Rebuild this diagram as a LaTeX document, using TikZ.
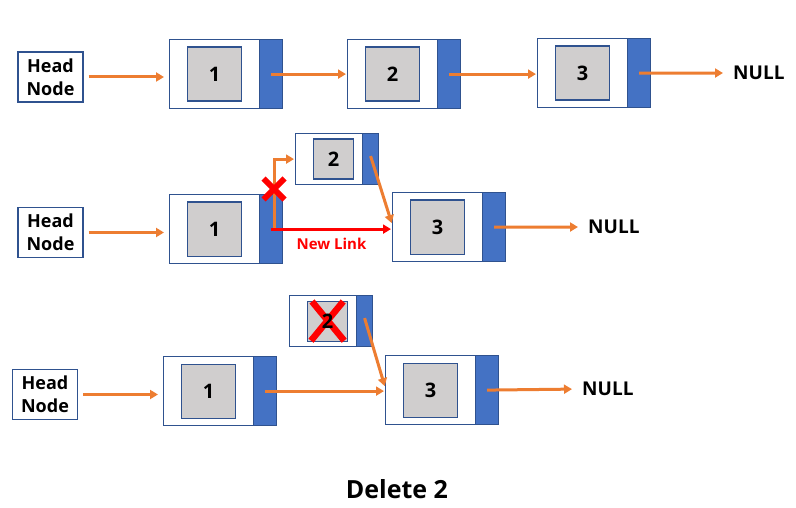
\documentclass[tikz,border=0pt]{standalone}
\usepackage{fontspec}
\setmainfont{Open Sans}
\usetikzlibrary{arrows.meta,shapes.misc}
\definecolor{cellborder}{RGB}{47,82,143}
\definecolor{ptrblue}{RGB}{68,114,196}
\definecolor{datagray}{RGB}{208,206,206}
\definecolor{linkorange}{RGB}{237,125,49}
\tikzset{
  cell/.style={draw=cellborder,fill=white,line width=1.2pt,anchor=north west,
    minimum width=113pt,minimum height=69pt,inner sep=0pt},
  cellsm/.style={cell,minimum width=83pt,minimum height=51pt},
  ptr/.style={draw=cellborder,fill=ptrblue,line width=1.2pt,anchor=north east,
    minimum width=23pt,minimum height=69pt,inner sep=0pt},
  ptrsm/.style={ptr,minimum width=16pt,minimum height=51pt},
  data/.style={draw=cellborder,fill=datagray,line width=1.2pt,anchor=west,
    minimum size=54pt,inner sep=0pt,font=\bfseries\fontsize{20}{24}\selectfont},
  datasm/.style={data,minimum size=40pt},
  head/.style={draw=cellborder,line width=1.2pt,minimum width=65pt,minimum height=50pt,
    inner sep=0pt,align=center,font=\bfseries\fontsize{18}{23}\selectfont},
  nullnode/.style={anchor=west,inner sep=0pt,font=\bfseries\fontsize{19}{23}\selectfont},
  link/.style={draw=linkorange,line width=3pt,-{Triangle[length=8pt,width=9pt]}},
  newlink/.style={link,draw=red},
  xmark/.style={cross out,draw=red,line width=6pt,minimum size=15pt,inner sep=0pt},
  xline/.style={draw=red,line width=6.5pt}
}
\begin{document}
\begin{tikzpicture}[x=1pt,y=-1pt]
    \useasboundingbox (0,0) rectangle (796,508);

    % row 1
    \node[head] (h1) at (50.5,77) {Head\\Node};
    \node[cell] (r1a) at (169,39) {};
    \node[ptr] (r1ab) at (r1a.north east) {};
    \node[data] (r1ad) at ([xshift=18pt]r1a.west) {1};
    \node[cell] (r1b) at (347,39) {};
    \node[ptr] (r1bb) at (r1b.north east) {};
    \node[data] (r1bd) at ([xshift=18pt]r1b.west) {2};
    \node[cell] (r1c) at (537,38) {};
    \node[ptr] (r1cb) at (r1c.north east) {};
    \node[data] (r1cd) at ([xshift=18pt]r1c.west) {3};
    \node[nullnode] (null1) at (733,73) {NULL};

    \draw[link,shorten <=5pt,shorten >=5pt] (h1.east) -- (h1.east -| r1a.west);
    \draw[link,shorten >=1pt] (r1ab.center) -- (r1ab.center -| r1b.west);
    \draw[link,shorten >=1pt] (r1bb.center) -- (r1bb.center -| r1c.west);
    \draw[link,shorten >=10pt] (r1cb.center) -- (null1.west);

    % row 2
    \node[head] (h2) at (50.5,232.5) {Head\\Node};
    \node[cell] (r2a) at (169,194) {};
    \node[ptr] (r2ab) at (r2a.north east) {};
    \node[data] (r2ad) at ([xshift=18pt]r2a.west) {1};
    \node[cellsm] (r2b) at (295,133) {};
    \node[ptrsm] (r2bb) at (r2b.north east) {};
    \node[datasm] (r2bd) at ([xshift=18pt]r2b.west) {2};
    \node[cell] (r2c) at (392,192) {};
    \node[ptr] (r2cb) at (r2c.north east) {};
    \node[data] (r2cd) at ([xshift=18pt]r2c.west) {3};
    \node[nullnode] (null2) at (588,227) {NULL};

    \draw[link,shorten <=5pt,shorten >=5pt] (h2.east) -- (h2.east -| r2a.west);
    \draw[link,shorten >=1pt] ([xshift=3pt]r2ab.center) |- (r2b.west);
    \draw[link,shorten >=1pt] ([yshift=3pt]r2bb.center) -- ([yshift=3pt]r2c.west);
    \draw[newlink,shorten >=1pt] (r2ab.center) -- (r2ab.center -| r2c.west)
        node[midway,below=4pt,text=red,font=\bfseries\fontsize{15}{18}\selectfont] {New Link};
    \draw[link,shorten >=10pt] (r2cb.center) -- (null2.west);
    \node[xmark] (cut) at (274,189) {};

    % row 3
    \node[head] (h3) at (45,394.5) {Head\\Node};
    \node[cell] (r3a) at (163,356) {};
    \node[ptr] (r3ab) at (r3a.north east) {};
    \node[data] (r3ad) at ([xshift=18pt]r3a.west) {1};
    \node[cellsm] (r3b) at (289,295) {};
    \node[ptrsm] (r3bb) at (r3b.north east) {};
    \node[datasm] (r3bd) at ([xshift=18pt]r3b.west) {};
    \node[cell] (r3c) at (385,355) {};
    \node[ptr] (r3cb) at (r3c.north east) {};
    \node[data] (r3cd) at ([xshift=18pt]r3c.west) {3};
    \node[nullnode] (null3) at (582,389) {NULL};

    \draw[xline] ([xshift=5pt,yshift=-1pt]r3bd.north west) -- ([xshift=-4pt,yshift=1pt]r3bd.south east);
    \draw[xline] ([xshift=-5pt,yshift=-1pt]r3bd.north east) -- ([xshift=4pt,yshift=1pt]r3bd.south west);
    \node[font=\bfseries\fontsize{20}{24}\selectfont] (r3bt) at (r3bd.center) {2};

    \draw[link,shorten <=5pt,shorten >=5pt] (h3.east) -- (h3.east -| r3a.west);
    \draw[link,shorten >=1pt] (r3ab.center) -- (r3ab.center -| r3c.west);
    \draw[link,shorten >=1pt] ([yshift=3pt]r3bb.center) -- ([yshift=3pt]r3c.west);
    \draw[link,shorten >=10pt] (r3cb.center) -- (null3.west);

    \node[font=\bfseries\fontsize{25}{30}\selectfont] (title) at (397,489) {Delete 2};
\end{tikzpicture}
\end{document}
